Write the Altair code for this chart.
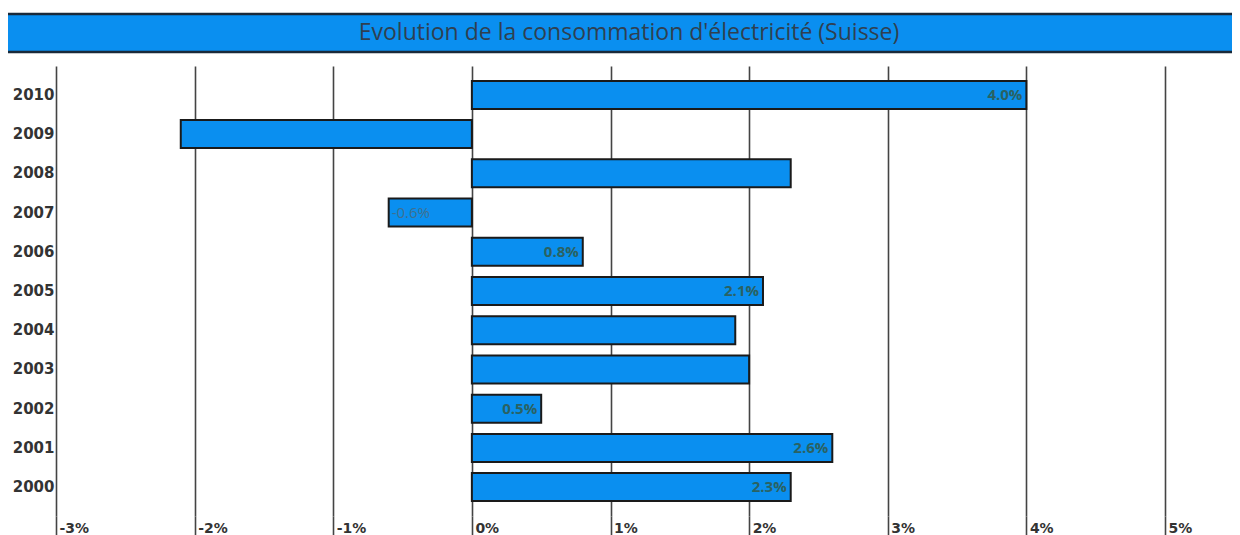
import altair as alt
import pandas as pd

years = ["2010", "2009", "2008", "2007", "2006", "2005", "2004", "2003", "2002", "2001", "2000"]
growth = [4.0, -2.1, 2.3, -0.6, 0.8, 2.1, 1.9, 2.0, 0.5, 2.6, 2.3]
labels = ["4.0%", "", "", "-0.6%", "0.8%", "2.1%", "", "", "0.5%", "2.6%", "2.3%"]
x_ticks = [-3, -2, -1, 0, 1, 2, 3, 4, 5]
title_text = "Evolution de la consommation d'électricité (Suisse)"

df = pd.DataFrame({"year": years, "growth": growth, "label": labels})
tdf = pd.DataFrame({"t": [title_text]})

W, H = 1109, 450
BLUE = "#0a8ff0"
GRID = "#444444"

xenc = alt.X(
    "growth:Q",
    scale=alt.Scale(domain=[-3, 5], nice=False, zero=False),
    axis=alt.Axis(
        values=x_ticks, labelExpr="datum.value + '%'", title=None,
        grid=True, gridColor=GRID, gridWidth=1.6, gridOpacity=1,
        domain=False, ticks=True, tickSize=26, tickColor=GRID, tickWidth=1.6,
        labelPadding=-21, labelAlign="left", labelBaseline="top", labelOffset=3,
        labelFont="DejaVu Sans", labelFontWeight="bold", labelFontSize=14,
        labelColor="#333333",
    ),
)
yenc = alt.Y(
    "year:N", sort=years,
    scale=alt.Scale(paddingInner=0.286, paddingOuter=0.38),
    axis=alt.Axis(
        title=None, domain=False, ticks=False, grid=False, labelPadding=2,
        labelFont="DejaVu Sans", labelFontWeight="bold", labelFontSize=15,
        labelColor="#333333",
    ),
)

bars = alt.Chart(df).mark_bar(color=BLUE, stroke="#1a1a1a", strokeWidth=2).encode(
    x=xenc, x2=alt.datum(0), y=yenc
)

pos_lbl = alt.Chart(df).transform_filter("datum.label != '' && datum.growth > 0").mark_text(
    align="right", dx=-4, font="Open Sans", fontSize=15, fontWeight="bold", color="#2a6262"
).encode(x="growth:Q", y=alt.Y("year:N", sort=years), text="label:N")

neg_lbl = alt.Chart(df).transform_filter("datum.label != '' && datum.growth < 0").mark_text(
    align="left", dx=3, font="Open Sans", fontSize=15, color="#3f6f8f"
).encode(x="growth:Q", y=alt.Y("year:N", sort=years), text="label:N")

tbar = alt.Chart(tdf).mark_rect(color=BLUE).encode(
    x=alt.value(-48), x2=alt.value(W + 80), y=alt.value(-52), y2=alt.value(-14)
)
ttop = alt.Chart(tdf).mark_rule(color="#1a2a3a", strokeWidth=2.5).encode(
    x=alt.value(-48), x2=alt.value(W + 80), y=alt.value(-52)
)
tbot = alt.Chart(tdf).mark_rule(color="#1a2a3a", strokeWidth=2.5).encode(
    x=alt.value(-48), x2=alt.value(W + 80), y=alt.value(-14)
)
ttext = alt.Chart(tdf).mark_text(
    font="Open Sans", fontSize=23, color="#2f4050", baseline="middle", align="center"
).encode(x=alt.value(573), y=alt.value(-33), text="t:N")

chart = alt.layer(bars, pos_lbl, neg_lbl, tbar, ttop, tbot, ttext).properties(
    width=W, height=H,
    autosize=alt.AutoSizeParams(type="none"),
    padding={"left": 48, "top": 58, "right": 67, "bottom": 30},
).configure_view(stroke=None)

chart.save("out.html", embed_options={"renderer": "svg", "actions": False})
